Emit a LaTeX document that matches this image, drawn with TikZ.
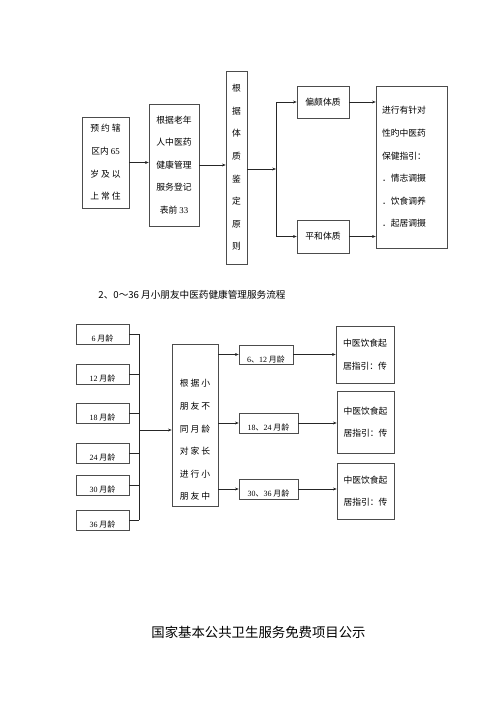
\documentclass[tikz,border=0pt]{standalone}
\usepackage{fontspec}
\setmainfont{Noto Sans CJK SC}
\newfontfamily\enfont{Liberation Serif}
\usetikzlibrary{arrows.meta}
\tikzset{sz/.style 2 args={minimum width=#1*0.042cm, minimum height=#2*0.042cm}}

\begin{document}
\begin{tikzpicture}[x=0.042cm, y=-0.042cm]
    % 定义样式
    \tikzstyle{box}=[draw=black!70, line width=0.6pt, inner sep=0pt, align=center, font=\fontsize{10.5}{27}\selectfont]
    \tikzstyle{small}=[font=\fontsize{9.5}{11}\selectfont, text height=18pt, text depth=0pt]
    \tikzstyle{line}=[line width=0.6pt, black!85]
    \tikzstyle{arrowstyle}=[line, -{Stealth[length=4.5pt, width=3.5pt]}]

    \useasboundingbox (0,0) rectangle (500,707);

    % 1. 老年人中医药健康管理流程
    \node[box, sz={47}{91}] (resident) at (105.5,162.5) {预 约 辖\\区内 {\enfont 65}\\岁 及 以\\上 常 住};
    \node[box, sz={50}{122}] (register) at (174,165) {根据老年\\人中医药\\健康管理\\服务登记\\表前 {\enfont 33}};
    \node[box, sz={21}{193}] (principle) at (236.5,167.5) {根\\据\\体\\质\\鉴\\定\\原\\则};
    \node[box, sz={52}{32}] (biased) at (323,102) {偏颇体质};
    \node[box, sz={52}{33}] (neutral) at (323,236.5) {平和体质};
    \node[box, sz={71}{162}, inner xsep=6*0.042cm, text width=59*0.042cm, align=left] (advice) at (411.5,167)
        {进行有针对\\性旳中医药\\保健指引：\\．情志调摄\\．饮食调养\\．起居调摄};

    \coordinate (split) at (276,169);
    \draw[arrowstyle] (resident.east) -- (resident.east -| register.west);
    \draw[arrowstyle] (register.east) -- (register.east -| principle.west);
    \draw[arrowstyle] (principle.east |- split) -- (split);
    \draw[arrowstyle] (split) |- (biased.west);
    \draw[arrowstyle] (split) |- (neutral.west);
    \draw[arrowstyle] (biased.east) -- (biased.east -| advice.west);
    \draw[arrowstyle] (neutral.east) -- (neutral.east -| advice.west);

    % 2. 小朋友中医药健康管理流程
    \node[font=\fontsize{11.5}{13}\selectfont] (title2) at (192,295) {2、0～36 月小朋友中医药健康管理服务流程};

    % 月龄
    \foreach \m/\y in {6/334, 12/374, 18/413, 24/453, 30/485, 36/520}
        \node[box, small, sz={53}{20}] (age\m) at (102.5,\y) {{\enfont\m} 月龄};

    \coordinate (bus) at (139,430);
    \foreach \m in {6,12,18,24,30,36}
        \draw[line] (age\m.east) -- (age\m.east -| bus);
    \draw[line] (bus |- age6.east) -- (bus |- age36.east);

    % 指导框 (文字往下挪一点)
    \node[box, sz={46}{162}] (guide) at (195,425)
        {\rule{0pt}{45pt}根 据 小\\朋 友 不\\同 月 龄\\对 家 长\\进 行 小\\朋 友 中};
    \draw[arrowstyle] (bus) -- (bus -| guide.west);

    \node[box, small, sz={54}{19}] (m0612) at (266,354.5) {{\enfont 6}、{\enfont 12} 月龄};
    \node[box, small, sz={59}{20}] (m1824) at (268.5,423) {{\enfont 18}、{\enfont 24} 月龄};
    \node[box, small, sz={59}{20}] (m3036) at (268.5,489) {{\enfont 30}、{\enfont 36} 月龄};

    \node[box, sz={58}{57}] (tipA) at (365,354.5) {中医饮食起\\居指引：传};
    \node[box, sz={57}{62}] (tipB) at (365.5,422) {中医饮食起\\居指引：传};
    \node[box, sz={57}{56}] (tipC) at (365.5,491) {中医饮食起\\居指引：传};

    \foreach \a/\b in {m0612/tipA, m1824/tipB, m3036/tipC} {
        \draw[arrowstyle] (guide.east |- \a.west) -- (\a.west);
        \draw[arrowstyle] (\a.east) -- (\a.east -| \b.west);
    }

    % 3. 标题
    \node[font=\fontsize{16}{18}\selectfont] (title3) at (258.5,632) {国家基本公共卫生服务免费项目公示};

\end{tikzpicture}
\end{document}
